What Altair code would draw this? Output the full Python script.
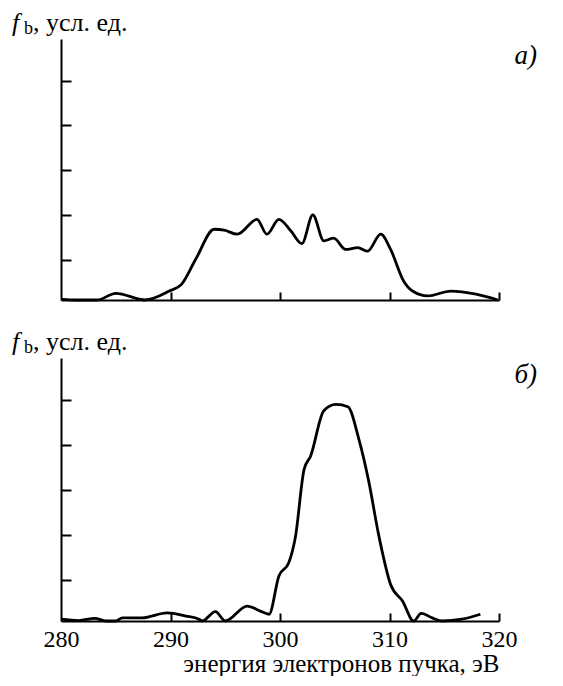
import altair as alt
import pandas as pd

# Panel a)
E_a = [280, 281.5, 283.3, 285.0, 287.7, 289.9, 291.0, 292.3, 294.0, 294.9, 296.1, 297.9,
       298.8, 299.9, 301.0, 302.0, 303.0, 304.0, 304.9, 306.0, 307.1, 308.0, 309.2, 310.1,
       311.3, 312.1, 313.5, 315.6, 317.9, 319.9]
F_a = [0.02, 0.0, 0.0, 0.15, 0.0, 0.2, 0.35, 0.91, 1.58, 1.56, 1.47, 1.80,
       1.47, 1.80, 1.54, 1.26, 1.90, 1.32, 1.38, 1.13, 1.17, 1.09, 1.47, 1.13,
       0.42, 0.20, 0.09, 0.20, 0.13, 0.0]

# Panel б)
E_b = [280, 281.6, 283.1, 284.1, 285.0, 285.6, 287.4, 289.7, 291.4, 292.6, 292.9, 294.1,
       295.0, 297.0, 298.2, 299.0, 299.9, 300.8, 301.4, 302.2, 302.8, 304.0, 305.1, 306.2,
       307.2, 308.1, 309.0, 310.1, 311.2, 312.2, 312.9, 313.9, 314.8, 316.6, 318.3]
F_b = [0.04, 0.01, 0.06, 0.0, 0.0, 0.07, 0.07, 0.18, 0.11, 0.04, 0.0, 0.21,
       0.0, 0.33, 0.22, 0.15, 1.0, 1.29, 1.85, 3.36, 3.66, 4.66, 4.80, 4.75,
       4.03, 3.10, 1.92, 0.81, 0.44, 0.0, 0.17, 0.07, 0.0, 0.04, 0.15]

x_labels = [280, 290, 300, 310, 320]
x_ticks = [290, 300, 310, 320]
y_ticks = [0.9, 1.9, 2.9, 3.9, 4.9]
y_label_parts = ["f", "b", ", усл. ед."]
panel_labels = ["a)", "б)"]
x_title = "энергия электронов пучка, эВ"

FONT = "Liberation Serif"
W = 438


def panel(E, F, height, tag, bottom):
    df = pd.DataFrame({"E": E, "F": F})
    xs = alt.Scale(domain=[280, 320], nice=False, zero=False)
    ys = alt.Scale(domain=[0, 5.83], nice=False, zero=True)
    main_x_axis = dict(orient="bottom", values=x_labels, ticks=False, grid=False,
                       domainColor="black", domainWidth=2, labels=bottom,
                       labelFont=FONT, labelFontSize=24, labelColor="black",
                       labelPadding=6, labelFlush=False)
    if bottom:
        main_x_axis.update(title=x_title, titleFont=FONT, titleFontSize=25,
                           titleFontWeight="normal", titleColor="black",
                           titleAnchor="end", titlePadding=0)
    else:
        main_x_axis.update(title=None)
    line = alt.Chart(df).mark_line(color="black", strokeWidth=2.8,
                                   interpolate="monotone", strokeJoin="round").encode(
        x=alt.X("E:Q", scale=xs, axis=alt.Axis(**main_x_axis)),
        y=alt.Y("F:Q", scale=ys, axis=alt.Axis(orient="left", ticks=False, labels=False,
                                               grid=False, title=None, domainColor="black",
                                               domainWidth=2)),
    )
    tick_layer = alt.Chart(df).mark_line(strokeOpacity=0).encode(
        x=alt.X("E:Q", scale=xs, axis=alt.Axis(orient="top", offset=-height, values=x_ticks,
                                               domain=False, labels=False, grid=False,
                                               title=None, tickColor="black", tickWidth=2,
                                               tickSize=8)),
        y=alt.Y("F:Q", scale=ys, axis=alt.Axis(orient="right", offset=-W, values=y_ticks,
                                               domain=False, labels=False, grid=False,
                                               title=None, tickColor="black", tickWidth=2,
                                               tickSize=10)),
    )
    t_f = alt.Chart(pd.DataFrame({"t": [y_label_parts[0]]})).mark_text(
        font=FONT, fontSize=26, fontStyle="italic", align="left", baseline="alphabetic",
        color="black").encode(text="t:N", x=alt.value(-49), y=alt.value(-8))
    t_b = alt.Chart(pd.DataFrame({"t": [y_label_parts[1]]})).mark_text(
        font=FONT, fontSize=18, align="left", baseline="alphabetic",
        color="black").encode(text="t:N", x=alt.value(-37), y=alt.value(-5))
    t_u = alt.Chart(pd.DataFrame({"t": [y_label_parts[2]]})).mark_text(
        font=FONT, fontSize=26, align="left", baseline="alphabetic",
        color="black").encode(text="t:N", x=alt.value(-28), y=alt.value(-8))
    t_tag = alt.Chart(pd.DataFrame({"t": [tag]})).mark_text(
        font=FONT, fontSize=27, fontStyle="italic", align="right", baseline="alphabetic",
        color="black").encode(text="t:N", x=alt.value(476), y=alt.value(25))
    return alt.layer(line, tick_layer, t_f, t_b, t_u, t_tag).resolve_axis(
        x="independent", y="independent").properties(width=W, height=height)


top = panel(E_a, F_a, 261, panel_labels[0], False)
bot = panel(E_b, F_b, 263, panel_labels[1], True)

chart = alt.vconcat(top, bot, spacing=27).properties(
    padding={"left": 4, "top": 2, "right": 4, "bottom": 0}
).configure(font=FONT, background="white").configure_view(stroke="transparent", strokeWidth=0)

chart.save("out.html", embed_options={"renderer": "svg", "actions": False})
